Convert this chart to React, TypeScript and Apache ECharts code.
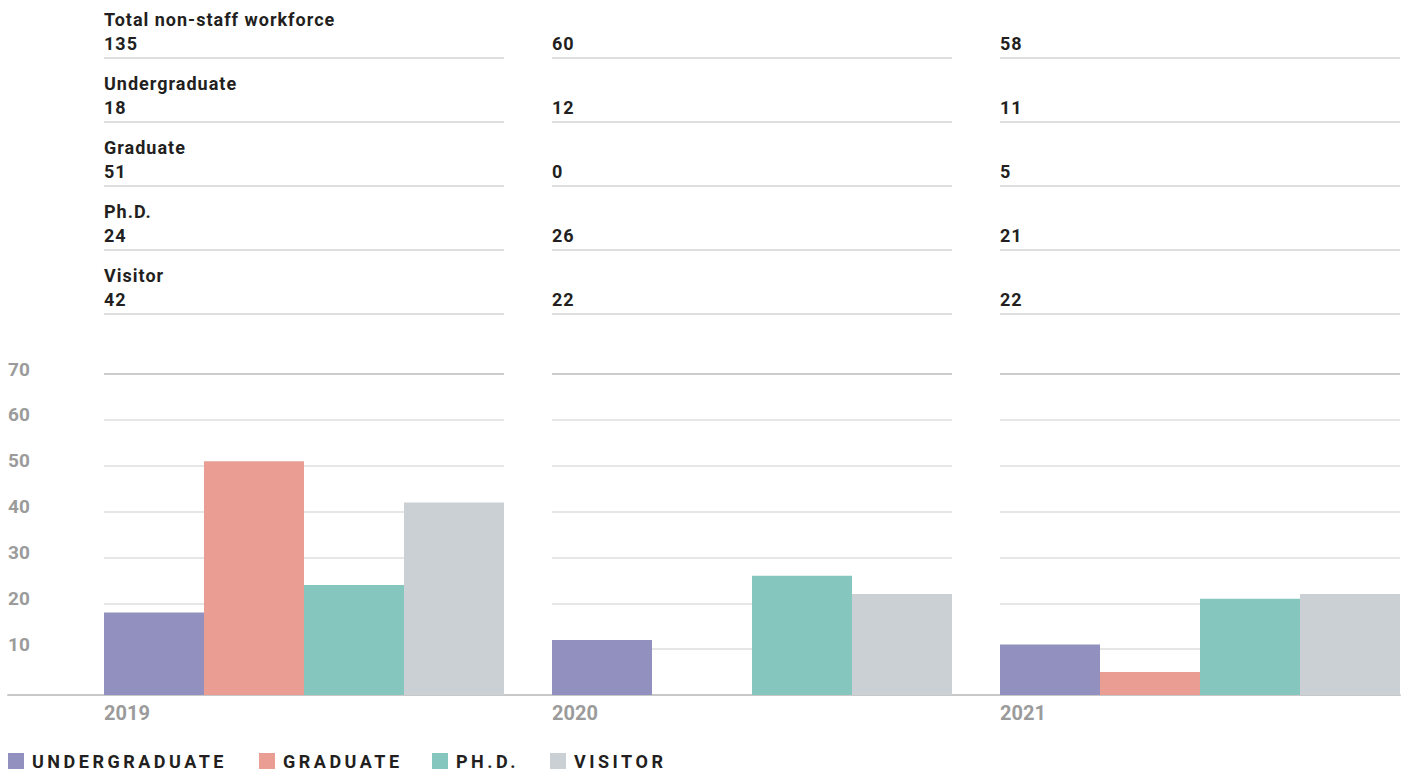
import React, { useEffect, useRef } from 'react';
import * as echarts from 'echarts';

// ---------- data ----------
const YEARS = ['2019', '2020', '2021'];
const CATEGORIES = ['Undergraduate', 'Graduate', 'Ph.D.', 'Visitor'];
const UNDERGRADUATE = [18, 12, 11];
const GRADUATE = [51, 0, 5];
const PHD = [24, 26, 21];
const VISITOR = [42, 22, 22];
const TOTAL_NON_STAFF = [135, 60, 58];
const TABLE_LABELS = ['Total non-staff workforce', 'Undergraduate', 'Graduate', 'Ph.D.', 'Visitor'];
const Y_MIN = 0;
const Y_MAX = 70;
const Y_STEP = 10;

const SERIES_VALUES = [UNDERGRADUATE, GRADUATE, PHD, VISITOR];
const TABLE_VALUES = [TOTAL_NON_STAFF, UNDERGRADUATE, GRADUATE, PHD, VISITOR];

// ---------- style / layout ----------
const COLORS = ['#9290be', '#ea9e93', '#85c6bf', '#cbd0d4'];
const FONT = "Roboto, 'Liberation Sans', sans-serif";
const DARK = '#231f20';
const GREY = '#9b9b9b';
const COL_X0 = 104;
const COL_STEP = 448;
const COL_W = 400;
const PLOT_TOP = 374;
const PLOT_H = 321;
const ROW_STEP = 64;
const LEGEND_LEFT = [8, 259, 432, 550];

function buildOption() {
  const grids: any[] = [];
  const xAxes: any[] = [];
  const yAxes: any[] = [];
  const series: any[] = [];

  YEARS.forEach((year, i) => {
    grids.push({ left: COL_X0 + COL_STEP * i, width: COL_W, top: PLOT_TOP, height: PLOT_H, outerBoundsMode: 'none' });
    xAxes.push({
      type: 'category',
      gridIndex: i,
      data: [year],
      axisLine: { show: false },
      axisTick: { show: false },
      axisLabel: {
        interval: 0,
        margin: 18,
        verticalAlign: 'middle',
        align: 'center',
        formatter: (v: string) => `{y|${v}}`,
        rich: {
          y: { width: COL_W, align: 'left', fontSize: 20, fontWeight: 'bold', color: GREY, fontFamily: FONT },
        },
      },
    });
    yAxes.push({
      type: 'value',
      gridIndex: i,
      min: Y_MIN,
      max: Y_MAX,
      interval: Y_STEP,
      axisLine: { show: false },
      axisTick: { show: false },
      axisLabel: {
        show: i === 0,
        margin: 96,
        align: 'left',
        verticalAlign: 'bottom',
        lineHeight: 10,
        fontSize: 19,
        fontWeight: 'bold',
        color: GREY,
        fontFamily: FONT,
        formatter: (v: number) => (v === Y_MIN ? '' : String(v)),
      },
      splitLine: {
        show: true,
        lineStyle: {
          width: 2,
          color: ['#c8c8c8', '#e6e6e6', '#e6e6e6', '#e6e6e6', '#e6e6e6', '#e6e6e6', '#e6e6e6', '#cccccc'],
        },
      },
    });
    CATEGORIES.forEach((cat, k) => {
      series.push({
        type: 'bar',
        name: cat,
        xAxisIndex: i,
        yAxisIndex: i,
        data: [SERIES_VALUES[k][i]],
        barGap: '0%',
        barCategoryGap: '0%',
        itemStyle: { color: COLORS[k] },
        emphasis: { disabled: true },
      });
    });
  });

  // background grid carrying the full-width baseline
  grids.push({ left: 8, width: COL_X0 + COL_STEP * 2 + COL_W - 8, top: PLOT_TOP, height: PLOT_H, outerBoundsMode: 'none' });
  xAxes.push({
    type: 'value',
    gridIndex: 3,
    min: 0,
    max: 1,
    axisLine: { show: true, lineStyle: { color: '#c8c8c8', width: 2 } },
    axisTick: { show: false },
    axisLabel: { show: false },
    splitLine: { show: false },
  });
  yAxes.push({ type: 'value', gridIndex: 3, show: false, min: 0, max: 1, splitLine: { show: false } });

  const legends = CATEGORIES.map((cat, k) => ({
    data: [cat],
    left: LEGEND_LEFT[k],
    top: 752,
    padding: 0,
    icon: 'rect',
    itemWidth: 16,
    itemHeight: 16,
    formatter: (name: string) => name.toUpperCase(),
    textStyle: { fontSize: 18, fontWeight: 'bold', color: DARK, fontFamily: FONT, padding: [0, 0, 0, 3] },
  }));

  const graphic: any[] = [];
  TABLE_LABELS.forEach((label, r) => {
    graphic.push({
      type: 'text',
      x: COL_X0,
      y: 19 + ROW_STEP * r,
      style: { text: label, fontSize: 18, fontWeight: 'bold', fontFamily: FONT, fill: DARK, verticalAlign: 'middle', align: 'left' },
    });
    YEARS.forEach((_, c) => {
      graphic.push({
        type: 'text',
        x: COL_X0 + COL_STEP * c,
        y: 43 + ROW_STEP * r,
        style: { text: String(TABLE_VALUES[r][c]), fontSize: 18, fontWeight: 'bold', fontFamily: FONT, fill: DARK, verticalAlign: 'middle', align: 'left' },
      });
      graphic.push({
        type: 'line',
        shape: { x1: COL_X0 + COL_STEP * c, y1: 58 + ROW_STEP * r, x2: COL_X0 + COL_STEP * c + COL_W, y2: 58 + ROW_STEP * r },
        style: { stroke: '#dedede', lineWidth: 2 },
      });
    });
  });

  return {
    animation: false,
    backgroundColor: '#ffffff',
    grid: grids,
    xAxis: xAxes,
    yAxis: yAxes,
    series,
    legend: legends,
    graphic,
  };
}

const LEGEND_TEXTS = new Set(CATEGORIES.map((c) => c.toUpperCase()));

export default function App() {
  const ref = useRef<HTMLDivElement>(null);
  useEffect(() => {
    const el = ref.current!;
    const chart = echarts.init(el, null, { renderer: 'svg' });
    chart.setOption(buildOption() as any);
    const spacing = () => {
      el.querySelectorAll('text').forEach((t) => {
        const s = (t.textContent || '').trim();
        const fill = (t.getAttribute('fill') || '').toLowerCase();
        let ls = '1';
        if (LEGEND_TEXTS.has(s)) ls = '3.5';
        else if (fill === GREY) ls = '0';
        t.setAttribute('letter-spacing', ls);
      });
    };
    spacing();
    chart.on('finished', spacing);
    return () => chart.dispose();
  }, []);
  return <div ref={ref} style={{ position: 'absolute', left: 0, top: 0, width: 1406, height: 774 }} />;
}
